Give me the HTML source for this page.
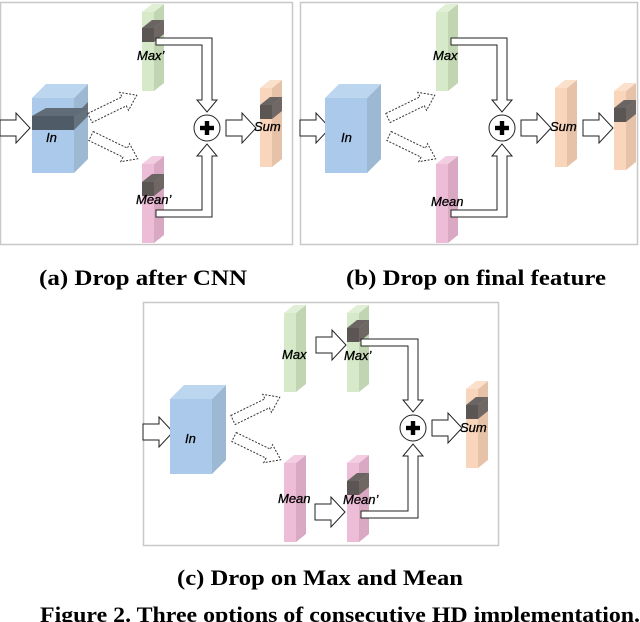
<!DOCTYPE html>
<html><head><meta charset="utf-8"><style>
html,body{margin:0;padding:0;background:#fff;}
svg{display:block;}
.lab{font-family:"Liberation Sans",sans-serif;font-style:italic;font-size:13px;fill:#000;stroke:#000;stroke-width:0.3;}
.cap{font-family:"Liberation Serif",serif;font-weight:bold;font-size:22px;fill:#000;}
.ar{fill:#fff;stroke:#222;stroke-width:1;}
.da{fill:#fff;stroke:#333;stroke-width:1;stroke-dasharray:2,1.5;}
</style></head><body>
<svg width="640" height="622" viewBox="0 0 640 622" xmlns="http://www.w3.org/2000/svg">
<defs>
<g id="green"><rect x="0" y="8" width="12" height="79" fill="#d6e9c9"/><polygon points="12,8 22,0 22,79 12,87" fill="#c1d5b2"/><polygon points="0,8 10,0 22,0 12,8" fill="#e0efd5"/></g>
<g id="pink"><rect x="0" y="8" width="12" height="79" fill="#edbcd7"/><polygon points="12,8 22,0 22,79 12,87" fill="#d9a9c3"/><polygon points="0,8 10,0 22,0 12,8" fill="#f3cde2"/></g>
<g id="orange"><rect x="0" y="8" width="12" height="79" fill="#f8d5bb"/><polygon points="12,8 22,0 22,79 12,87" fill="#e6c2a8"/><polygon points="0,8 10,0 22,0 12,8" fill="#fbe0cc"/></g>
<g id="dark"><rect x="0" y="8" width="12" height="14" fill="#5b5654"/><polygon points="12,8 22,0 22,14 12,22" fill="#6e6764"/><polygon points="0,8 10,0 22,0 12,8" fill="#6a6563"/></g>
<g id="cube"><rect x="0" y="14" width="42" height="75" fill="#abc9ea"/><polygon points="42,14 56,0 56,75 42,89" fill="#9db8d3"/><polygon points="0,14 14,0 56,0 42,14" fill="#bdd6f0"/></g>
<g id="rarr"><polygon class="ar" points="0,-8 16,-8 16,-15 30,0 16,15 16,8 0,8"/></g>
<g id="darr"><polygon class="da" points="0,-5 38,-5 38,-10 52,0 38,10 38,5 0,5"/></g>
<g id="plus"><circle r="13" fill="#fff" stroke="#222" stroke-width="1"/><rect x="-7" y="-2.2" width="14" height="4.4" fill="#000"/><rect x="-2.2" y="-7" width="4.4" height="14" fill="#000"/></g>
</defs>

<!-- Panel a -->
<rect x="0.5" y="2.5" width="292" height="242" fill="none" stroke="#c8c8c8" stroke-width="1.5"/>
<use href="#rarr" x="0" y="128"/>
<use href="#cube" x="32" y="84"/>
<rect x="32" y="116" width="42" height="14" fill="#4f5b66"/><polygon points="74,116 88,102 88,116 74,130" fill="#65717c"/><polygon points="32,116 46,108 88,108 74,116" fill="#606c77"/>
<text class="lab" x="46" y="142">In</text>
<use href="#darr" transform="translate(90,118) rotate(-26)"/>
<use href="#darr" transform="translate(91,136) rotate(26)"/>
<use href="#green" x="142" y="4"/>
<use href="#dark" x="142" y="20"/>
<text class="lab" x="137" y="60">Max’</text>
<use href="#pink" x="142" y="156"/>
<use href="#dark" x="142" y="174"/>
<text class="lab" x="136" y="204">Mean’</text>
<polygon class="ar" points="156,38 212,38 212,100 217,100 207,112 197,100 202,100 202,45 156,45"/>
<polygon class="ar" points="156,217 212,217 212,156 217,156 207,144 197,156 202,156 202,210 156,210"/>
<use href="#plus" x="207" y="128"/>
<use href="#rarr" x="226" y="128"/>
<use href="#orange" x="260" y="80"/>
<use href="#dark" x="260" y="97"/>
<text class="lab" x="254" y="131">Sum</text>

<!-- Panel b -->
<rect x="300.5" y="2.5" width="337" height="242" fill="none" stroke="#c8c8c8" stroke-width="1.5"/>
<use href="#rarr" x="300" y="128"/>
<use href="#cube" x="325" y="84"/>
<text class="lab" x="341" y="142">In</text>
<use href="#darr" transform="translate(388,118) rotate(-26)"/>
<use href="#darr" transform="translate(389,136) rotate(26)"/>
<use href="#green" x="436" y="4"/>
<text class="lab" x="433" y="60">Max</text>
<use href="#pink" x="436" y="156"/>
<text class="lab" x="431" y="206">Mean</text>
<polygon class="ar" points="451,38 507,38 507,100 512,100 502,112 492,100 497,100 497,45 451,45"/>
<polygon class="ar" points="451,217 507,217 507,156 512,156 502,144 492,156 497,156 497,210 451,210"/>
<use href="#plus" x="502" y="128"/>
<use href="#rarr" x="521" y="128"/>
<use href="#orange" x="555" y="80"/>
<text class="lab" x="550" y="131">Sum</text>
<use href="#rarr" x="583" y="128"/>
<use href="#orange" x="614" y="83"/>
<use href="#dark" x="614" y="100"/>

<!-- Panel c -->
<rect x="143.5" y="302.5" width="355" height="243" fill="none" stroke="#c8c8c8" stroke-width="1.5"/>
<use href="#rarr" x="143" y="432"/>
<use href="#cube" x="170" y="385"/>
<text class="lab" x="185" y="443">In</text>
<use href="#darr" transform="translate(233,420) rotate(-26)"/>
<use href="#darr" transform="translate(234,437) rotate(26)"/>
<use href="#green" x="284" y="305"/>
<text class="lab" x="282" y="359">Max</text>
<use href="#rarr" x="316" y="345"/>
<use href="#green" x="347" y="305"/>
<use href="#dark" x="347" y="320"/>
<text class="lab" x="344" y="360">Max’</text>
<use href="#pink" x="284" y="455"/>
<text class="lab" x="278" y="503">Mean</text>
<use href="#rarr" x="315" y="512"/>
<use href="#pink" x="347" y="455"/>
<use href="#dark" x="347" y="473"/>
<text class="lab" x="343" y="504">Mean’</text>
<polygon class="ar" points="361,339 418,339 418,400 423,400 413,412 403,400 408,400 408,346 361,346"/>
<polygon class="ar" points="361,518 418,518 418,456 423,456 413,444 403,456 408,456 408,511 361,511"/>
<use href="#plus" x="413" y="428"/>
<use href="#rarr" x="432" y="428"/>
<use href="#orange" x="466" y="381"/>
<use href="#dark" x="466" y="397"/>
<text class="lab" x="460" y="432">Sum</text>

<!-- captions -->
<text class="cap" x="39" y="285" textLength="208" lengthAdjust="spacingAndGlyphs">(a) Drop after CNN</text>
<text class="cap" x="346" y="285" textLength="260" lengthAdjust="spacingAndGlyphs">(b) Drop on final feature</text>
<text class="cap" x="177" y="585" textLength="286" lengthAdjust="spacingAndGlyphs">(c) Drop on Max and Mean</text>
<text class="cap" x="40" y="622" textLength="600" lengthAdjust="spacingAndGlyphs">Figure 2. Three options of consecutive HD implementation.</text>
</svg>
</body></html>
